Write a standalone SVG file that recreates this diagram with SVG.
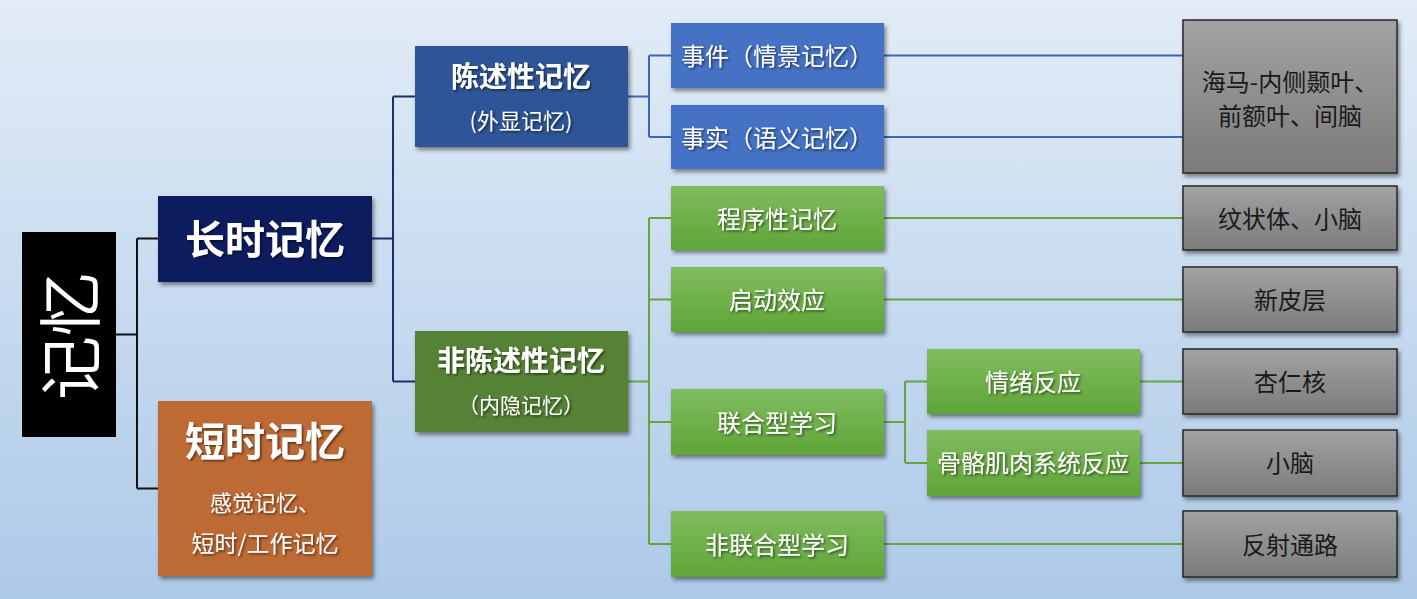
<svg xmlns="http://www.w3.org/2000/svg" width="1417" height="599" viewBox="0 0 1417 599">
<defs>
<linearGradient id="bg" x1="0" y1="0" x2="0" y2="1">
<stop offset="0" stop-color="#e2ecf7"/>
<stop offset="1" stop-color="#adc9e8"/>
</linearGradient>
<linearGradient id="gGreen" x1="0" y1="0" x2="0" y2="1">
<stop offset="0" stop-color="#80bc5e"/>
<stop offset="1" stop-color="#5fa538"/>
</linearGradient>
<linearGradient id="gGray" x1="0" y1="0" x2="0" y2="1">
<stop offset="0" stop-color="#a2a2a2"/>
<stop offset="1" stop-color="#7b7b7b"/>
</linearGradient>
<filter id="shadow" x="-10%" y="-10%" width="125%" height="135%">
<feDropShadow dx="2" dy="3" stdDeviation="2" flood-color="#000" flood-opacity="0.45"/>
</filter>
<filter id="tshadow" x="-10%" y="-20%" width="125%" height="150%">
<feDropShadow dx="1.5" dy="1.5" stdDeviation="1" flood-color="#000" flood-opacity="0.55"/>
</filter>
</defs>
<style>
text { font-family: "Noto Sans CJK SC", "Noto Sans", sans-serif; text-anchor: middle; dominant-baseline: central; }
.w { fill: #ffffff; filter: url(#tshadow); }
.k { fill: #1a1a1a; }
.box { filter: url(#shadow); }
.gray { fill: url(#gGray); stroke: #262626; stroke-width: 1.5; }
.green { fill: url(#gGreen); }
.blue { fill: #4472c4; }
.t40 { font-size: 40px; font-weight: bold; }
.t28 { font-size: 28px; font-weight: bold; }
.t24 { font-size: 24px; }
.t22 { font-size: 22px; }
.conn { fill: none; stroke-width: 2; }
.cblack { stroke: #111111; }
.cnavy { stroke: #1b2f6b; }
.cblue { stroke: #3a66b8; }
.cgreen { stroke: #62a63c; }
</style>
<rect x="0" y="0" width="1417" height="599" fill="url(#bg)"/>

<g id="connectors">
<path class="conn cblack" d="M116 334.5 H137 M137 238.5 V488.5 M137 238.5 H158 M137 488.5 H158"/>
<path class="conn cnavy" d="M372 238.5 H393 M393 96.5 V381.5 M393 96.5 H415 M393 381.5 H415"/>
<path class="conn cblue" d="M628 96.5 H649 M649 55.5 V137 M649 55.5 H671 M649 137 H671"/>
<path class="conn cgreen" d="M628 381.5 H649 M649 218 V544 M649 218 H671 M649 299.5 H671 M649 422 H671 M649 544 H671"/>
<path class="conn cblue" d="M884 55.5 H1183 M884 137 H1183"/>
<path class="conn cgreen" d="M884 218 H1183 M884 299.5 H1183 M884 544 H1183"/>
<path class="conn cgreen" d="M884 422 H905 M905 381.5 V463 M905 381.5 H927 M905 463 H927 M1140 381.5 H1183 M1140 463 H1183"/>
</g>

<g id="node-root">
<rect x="22" y="232" width="94" height="205" fill="#000000"/>
<text x="66" y="336" transform="rotate(-90 66 336)" fill="#ffffff" style="font-size:64px">记忆</text>
</g>

<g id="node-long">
<rect class="box" x="158" y="196" width="214" height="86" fill="#0b1f5e"/>
<text class="w t40" x="265" y="237">长时记忆</text>
</g>

<g id="node-short">
<rect class="box" x="158" y="401" width="214" height="175" fill="#be6a34"/>
<text class="w t40" x="265" y="439">短时记忆</text>
<text class="w t22" x="265" y="501">感觉记忆、</text>
<text class="w" x="265" y="542" style="font-size:23px">短时/工作记忆</text>
</g>

<g id="node-declarative">
<rect class="box" x="415" y="46" width="213" height="101" fill="#2f5597"/>
<text class="w t28" x="521" y="75">陈述性记忆</text>
<text class="w t22" x="521" y="119">(外显记忆)</text>
</g>

<g id="node-nondeclarative">
<rect class="box" x="415" y="331" width="213" height="101" fill="#548235"/>
<text class="w t28" x="521" y="359">非陈述性记忆</text>
<text class="w" x="521" y="404" style="font-size:21px">（内隐记忆）</text>
</g>

<g id="node-episodic">
<rect class="box blue" x="671" y="23" width="213" height="65"/>
<text class="w t24" x="777" y="54">事件（情景记忆）</text>
</g>

<g id="node-semantic">
<rect class="box blue" x="671" y="105" width="213" height="64"/>
<text class="w t24" x="777" y="136">事实（语义记忆）</text>
</g>

<g id="node-procedural">
<rect class="box green" x="671" y="186" width="213" height="64"/>
<text class="w t24" x="777" y="217">程序性记忆</text>
</g>

<g id="node-priming">
<rect class="box green" x="671" y="267" width="213" height="65"/>
<text class="w t24" x="777" y="298.5">启动效应</text>
</g>

<g id="node-associative">
<rect class="box green" x="671" y="389" width="213" height="66"/>
<text class="w t24" x="777" y="421">联合型学习</text>
</g>

<g id="node-nonassociative">
<rect class="box green" x="671" y="511" width="213" height="66"/>
<text class="w t24" x="777" y="543">非联合型学习</text>
</g>

<g id="node-emotional">
<rect class="box green" x="927" y="349" width="213" height="65"/>
<text class="w t24" x="1033" y="380">情绪反应</text>
</g>

<g id="node-skeletal">
<rect class="box green" x="927" y="430" width="213" height="66"/>
<text class="w t24" x="1033" y="461">骨骼肌肉系统反应</text>
</g>

<g id="node-hippocampus">
<rect class="box gray" x="1183" y="20" width="214" height="153"/>
<text class="k t24" x="1290" y="80">海马-内侧颞叶、</text>
<text class="k t24" x="1290" y="114">前额叶、间脑</text>
</g>

<g id="node-striatum">
<rect class="box gray" x="1183" y="186" width="214" height="64"/>
<text class="k t24" x="1290" y="217">纹状体、小脑</text>
</g>

<g id="node-neocortex">
<rect class="box gray" x="1183" y="267" width="214" height="65"/>
<text class="k t24" x="1290" y="298">新皮层</text>
</g>

<g id="node-amygdala">
<rect class="box gray" x="1183" y="349" width="214" height="65"/>
<text class="k t24" x="1290" y="380">杏仁核</text>
</g>

<g id="node-cerebellum">
<rect class="box gray" x="1183" y="430" width="214" height="66"/>
<text class="k t24" x="1290" y="461">小脑</text>
</g>

<g id="node-reflex">
<rect class="box gray" x="1183" y="511" width="214" height="66"/>
<text class="k t24" x="1290" y="543">反射通路</text>
</g>
</svg>
